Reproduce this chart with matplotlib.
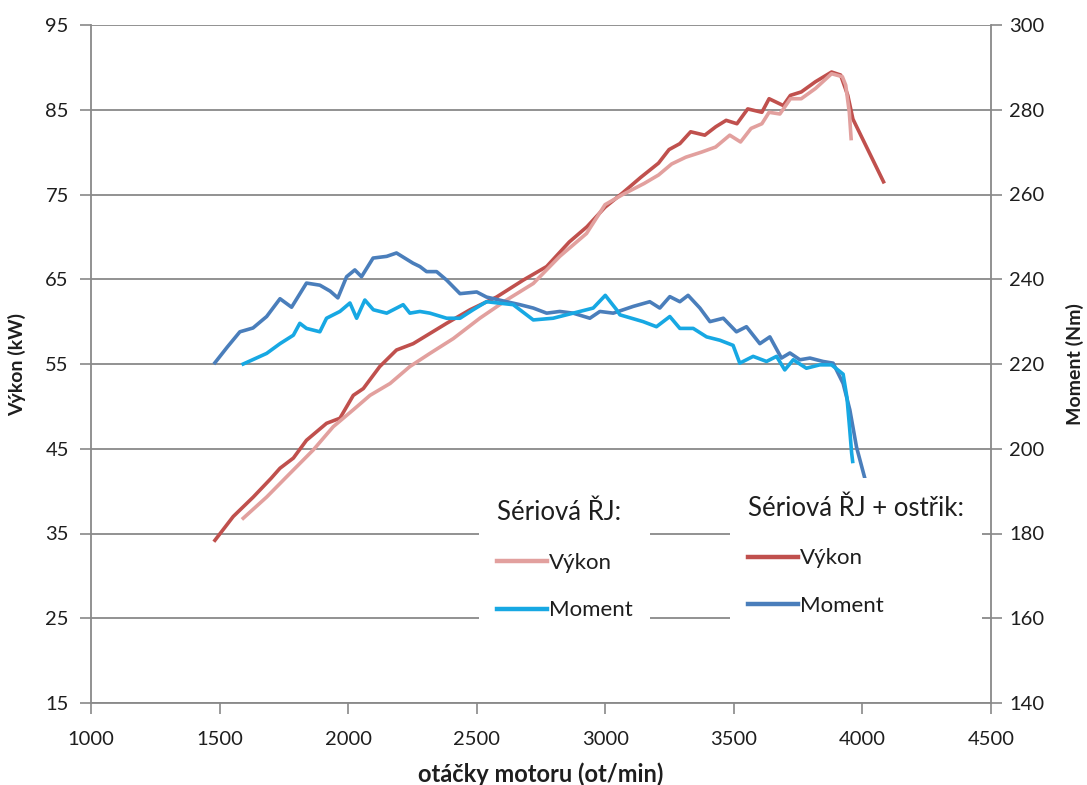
import matplotlib.pyplot as plt

plt.rcParams['font.family'] = ['Lato', 'DejaVu Sans']

# Sériová ŘJ - výkon (kW)
rpm_s_vykon = [1592, 1683, 1761, 1864, 1942, 2020, 2085, 2163, 2240, 2318, 2409, 2512,
               2616, 2720, 2823, 2927, 2999, 3068, 3151, 3207, 3258, 3313, 3374, 3429,
               3484, 3526, 3567, 3609, 3637, 3679, 3720, 3762, 3817, 3880, 3922, 3935,
               3949, 3956]
s_vykon = [36.8, 39.3, 41.7, 44.85, 47.6, 49.6, 51.3, 52.7, 54.7, 56.25, 58.0, 60.4,
           62.55, 64.5, 67.7, 70.4, 73.8, 75.0, 76.3, 77.3, 78.6, 79.4, 80.0, 80.6,
           82.0, 81.2, 82.8, 83.35, 84.7, 84.5, 86.3, 86.3, 87.5, 89.25, 88.9, 87.9,
           84.7, 81.6]

# Sériová ŘJ + ostřik - výkon (kW)
rpm_o_vykon = [1482, 1553, 1631, 1700, 1735, 1787, 1838, 1916, 1968, 2020, 2059, 2123,
               2188, 2253, 2318, 2383, 2474, 2577, 2681, 2772, 2860, 2929, 2999, 3068,
               3137, 3207, 3248, 3290, 3332, 3387, 3430, 3470, 3512, 3554, 3609, 3637,
               3692, 3720, 3762, 3817, 3880, 3915, 3943, 3963, 4082]
o_vykon = [34.2, 37.0, 39.3, 41.5, 42.7, 43.9, 46.0, 48.0, 48.6, 51.3, 52.1, 54.7,
           56.65, 57.4, 58.6, 59.8, 61.4, 62.9, 64.9, 66.5, 69.4, 71.2, 73.5, 75.2,
           77.0, 78.7, 80.3, 81.0, 82.4, 82.0, 83.0, 83.75, 83.35, 85.1, 84.7, 86.3,
           85.5, 86.7, 87.1, 88.3, 89.45, 89.1, 86.7, 83.9, 76.5]

# Sériová ŘJ - moment (Nm)
rpm_s_moment = [1592, 1683, 1735, 1787, 1812, 1838, 1890, 1916, 1968, 2007, 2033, 2065,
                2098, 2150, 2214, 2240, 2279, 2318, 2383, 2435, 2486, 2538, 2642, 2720,
                2797, 2875, 2953, 3000, 3044, 3057, 3147, 3199, 3251, 3290, 3342, 3394,
                3446, 3497, 3523, 3575, 3627, 3666, 3698, 3731, 3782, 3834, 3880, 3925,
                3940, 3950, 3958, 3962]
s_moment = [220, 222.5, 224.8, 226.8, 229.6, 228.4, 227.6, 230.8, 232.4, 234.4, 230.8, 235.1,
            232.8, 232, 234, 232, 232.4, 232, 230.8, 230.8, 232.8, 234.7, 234, 230.4,
            230.8, 232, 233.2, 236.2, 232.8, 231.6, 230, 228.8, 231.2, 228.4, 228.4, 226.4,
            225.6, 224.4, 220.2, 221.8, 220.6, 221.8, 218.6, 221, 219, 219.8, 219.8, 217.6,
            212, 205, 199, 197]

# Sériová ŘJ + ostřik - moment (Nm)
rpm_o_moment = [1482, 1530, 1579, 1630, 1683, 1735, 1780, 1838, 1890, 1930, 1960, 1994,
                2026, 2052, 2097, 2150, 2188, 2252, 2279, 2305, 2344, 2383, 2435, 2500,
                2538, 2616, 2668, 2720, 2772, 2823, 2875, 2940, 2979, 3031, 3109, 3173,
                3212, 3251, 3290, 3322, 3368, 3407, 3459, 3510, 3549, 3601, 3640, 3685,
                3718, 3757, 3796, 3847, 3886, 3925, 3951, 3977, 4013]
o_moment = [220.3, 224, 227.6, 228.5, 231.2, 235.4, 233.4, 239.1, 238.6, 237.2, 235.6, 240.6,
            242.2, 240.6, 245, 245.4, 246.2, 243.8, 243, 241.8, 241.8, 239.8, 236.6, 237,
            235.8, 234.7, 234, 233.2, 232, 232.4, 232, 230.8, 232.4, 232, 233.6, 234.7,
            233.2, 235.9, 234.7, 236.2, 233.2, 230, 230.8, 227.6, 228.8, 224.8, 226.4, 221.4,
            222.6, 221, 221.4, 220.6, 220.2, 215.4, 209.2, 200.4, 192.2]

x_ticks = [1000, 1500, 2000, 2500, 3000, 3500, 4000, 4500]
kw_ticks = [15, 25, 35, 45, 55, 65, 75, 85, 95]
nm_ticks = [140, 160, 180, 200, 220, 240, 260, 280, 300]

grid_c = '#898989'
text_c = '#1e1e1e'

fig = plt.figure(figsize=(10.87, 7.85), dpi=100)
ax = fig.add_axes([91 / 1087, 82 / 785, 900 / 1087, 678 / 785])
ax2 = ax.twinx()

lw = 2.6
h_o_vyk, = ax.plot(rpm_o_vykon, o_vykon, color='#C0504D', lw=lw, solid_joinstyle='round')
h_s_vyk, = ax.plot(rpm_s_vykon, s_vykon, color='#E2A09E', lw=lw, solid_joinstyle='round')
h_o_mom, = ax2.plot(rpm_o_moment, o_moment, color='#4A7EBB', lw=lw, solid_joinstyle='round')
h_s_mom, = ax2.plot(rpm_s_moment, s_moment, color='#17A8E3', lw=lw, solid_joinstyle='round')

ax.set_xlim(1000, 4500)
ax.set_ylim(15, 95)
ax2.set_ylim(140, 300)
ax.set_xticks(x_ticks)
ax.set_yticks(kw_ticks)
ax2.set_yticks(nm_ticks)

ax.yaxis.grid(True, color=grid_c, lw=1.3)
ax.set_axisbelow(True)

for s in ['top', 'right']:
    ax.spines[s].set_visible(False)
for s in ['top', 'left', 'bottom']:
    ax2.spines[s].set_visible(False)
for sp in [ax.spines['left'], ax.spines['bottom'], ax2.spines['right']]:
    sp.set_color(grid_c)
    sp.set_linewidth(1.3)

ax.tick_params(axis='y', direction='out', length=8, width=1.2, color=grid_c,
               labelsize=14.5, labelcolor=text_c, pad=8)
ax.tick_params(axis='x', direction='out', length=8, width=1.2, color=grid_c,
               labelsize=14.5, labelcolor=text_c, pad=12)
ax2.tick_params(axis='y', direction='out', length=8, width=1.2, color=grid_c,
                labelsize=14.5, labelcolor=text_c, pad=5)

ax.set_xlabel('otáčky motoru (ot/min)', fontsize=17, fontweight='bold', color=text_c)
ax.set_ylabel('Výkon (kW)', fontsize=14, fontweight='bold', color=text_c)
ax2.set_ylabel('Moment (Nm)', fontsize=14, fontweight='bold', color=text_c)
ax.xaxis.set_label_coords(0.5, -0.088)
ax.yaxis.set_label_coords(-0.072, 0.5)
ax2.yaxis.set_label_coords(1.083, 0.5)

leg_kw = dict(loc='upper left', fontsize=16, title_fontsize=18.5, handlelength=2.25,
              handletextpad=0.1, labelspacing=1.25, alignment='left', borderpad=0.8,
              borderaxespad=0, frameon=True, fancybox=False, framealpha=1,
              facecolor='white', edgecolor='none', labelcolor=text_c)
leg1 = ax2.legend([h_s_vyk, h_s_mom], ['Výkon', 'Moment'], title='Sériová ŘJ:',
                  bbox_to_anchor=(0.431, 0.326), **leg_kw)
leg1.get_title().set_color(text_c)
ax2.add_artist(leg1)
leg2 = ax2.legend([h_o_vyk, h_o_mom], ['Výkon', 'Moment'], title='Sériová ŘJ + ostřik:',
                  bbox_to_anchor=(0.71, 0.332), **leg_kw)
leg2.get_title().set_color(text_c)
for leg in (leg1, leg2):
    for ln in leg.get_lines():
        ln.set_linewidth(3.2)

fig.savefig('out.png', dpi=100)
